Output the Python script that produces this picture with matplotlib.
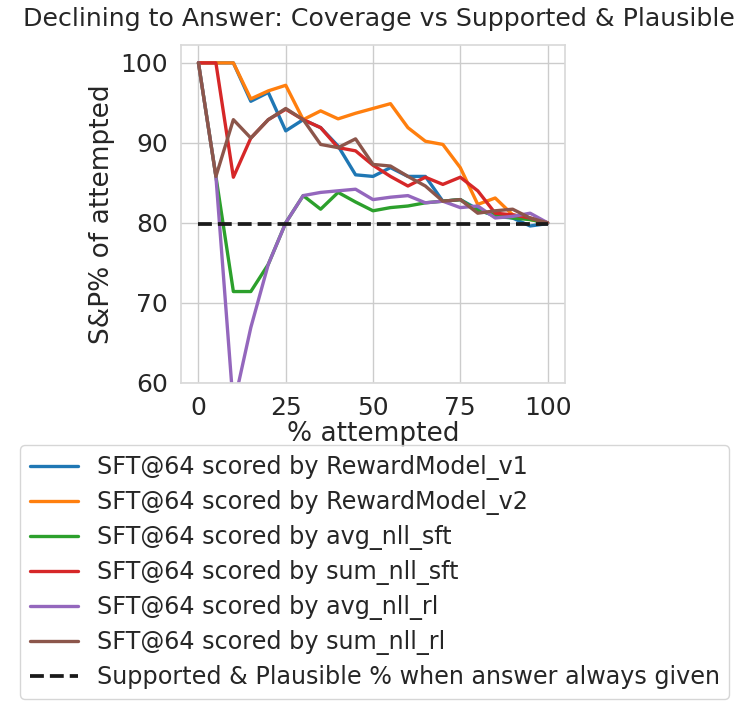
import numpy as np
import matplotlib
matplotlib.use("Agg")
import matplotlib.pyplot as plt
import seaborn as sns

sns.set_theme(style="whitegrid")
plt.rcParams['font.family'] = ['DejaVu Sans']

# % attempted
pct_attempted = [0, 5, 10, 15, 20, 25, 30, 35, 40, 45, 50,
                 55, 60, 65, 70, 75, 80, 85, 90, 95, 100]

rm_v1 = [100, 100, 100, 95.2, 96.3, 91.5, 92.9, 91.9, 89.6, 86.0, 85.8,
         86.9, 85.8, 85.8, 82.7, 82.9, 81.7, 80.8, 80.6, 79.6, 79.9]
rm_v2 = [100, 100, 100, 95.5, 96.5, 97.2, 92.9, 94.0, 93.0, 93.7, 94.3,
         94.9, 91.9, 90.2, 89.8, 86.9, 82.3, 83.1, 81.0, 80.4, 80.0]
avg_nll_sft = [100, 85.8, 71.4, 71.4, 74.8, 80.0, 83.4, 81.7, 83.8, 82.6, 81.5,
               81.9, 82.1, 82.5, 82.7, 82.9, 81.5, 81.0, 80.6, 80.4, 80.0]
sum_nll_sft = [100, 100, 85.7, 90.6, 92.9, 94.2, 92.9, 91.9, 89.4, 89.0, 87.2,
               85.8, 84.6, 85.7, 84.8, 85.7, 84.0, 81.2, 81.0, 80.6, 80.0]
avg_nll_rl = [100, 85.8, 57.0, 66.9, 74.8, 80.0, 83.4, 83.8, 84.0, 84.2, 82.9,
              83.2, 83.4, 82.5, 82.7, 81.9, 82.1, 80.6, 80.8, 81.2, 80.0]
sum_nll_rl = [100, 85.8, 92.9, 90.6, 92.9, 94.3, 92.9, 89.8, 89.4, 90.5, 87.3,
              87.1, 85.8, 84.6, 82.7, 82.9, 81.2, 81.5, 81.7, 80.6, 80.0]
always_answer = 79.9

series = [
    ("SFT@64 scored by RewardModel_v1", rm_v1),
    ("SFT@64 scored by RewardModel_v2", rm_v2),
    ("SFT@64 scored by avg_nll_sft", avg_nll_sft),
    ("SFT@64 scored by sum_nll_sft", sum_nll_sft),
    ("SFT@64 scored by avg_nll_rl", avg_nll_rl),
    ("SFT@64 scored by sum_nll_rl", sum_nll_rl),
]
colors = sns.color_palette("tab10")

fig = plt.figure(figsize=(7.47, 7.08), dpi=100)
ax = fig.add_axes([0.2423, 0.4595, 0.5141, 0.4765])

for i, (name, vals) in enumerate(series):
    ax.plot(pct_attempted, vals, color=colors[i], lw=2.4, label=name)
ax.plot([pct_attempted[0], pct_attempted[-1]], [always_answer, always_answer],
        "--", color="k", lw=2.7, label="Supported & Plausible % when answer always given")

ax.set_xlim(-5, 105)
ax.set_ylim(60, 102.2)
ax.set_xticks([0, 25, 50, 75, 100])
ax.set_yticks([60, 70, 80, 90, 100])
ax.tick_params(labelsize=18, colors=".15")
ax.set_xlabel("% attempted", fontsize=19, color=".15", labelpad=1)
ax.set_ylabel("S&P% of attempted", fontsize=19, color=".15")
for s in ax.spines.values():
    s.set_color(".85")
fig.suptitle("Declining to Answer: Coverage vs Supported & Plausible",
             fontsize=18.2, color=".15", x=0.507, y=0.99)

fig.legend(loc="upper left", bbox_to_anchor=(0.027, 0.371), borderaxespad=0,
           fontsize=17.2, labelspacing=0.42, frameon=True, edgecolor=".8")

fig.savefig("out.png", dpi=100)
